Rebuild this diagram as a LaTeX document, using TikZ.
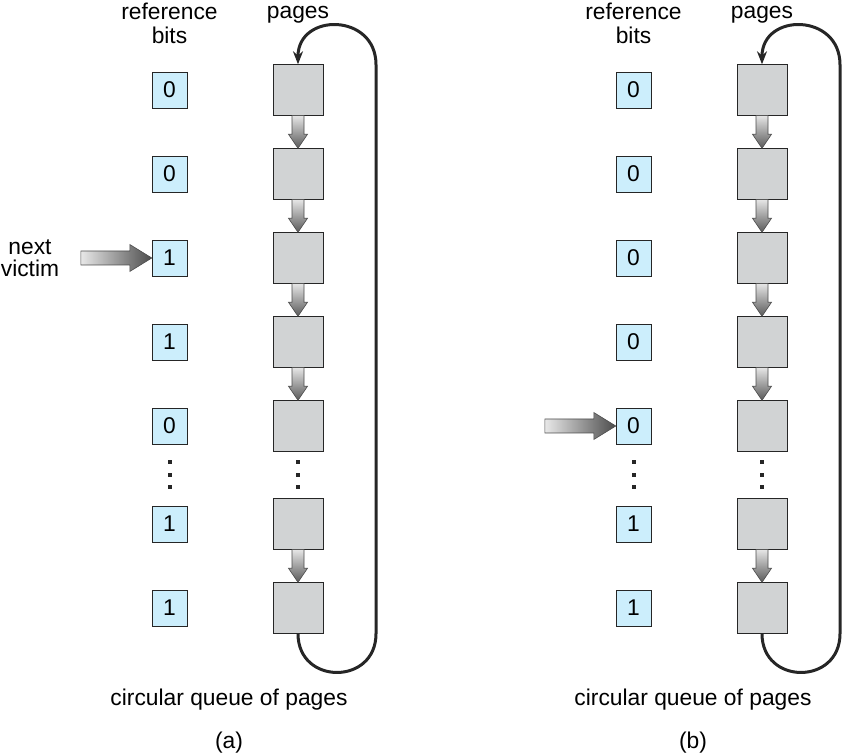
\documentclass[tikz,border=0pt]{standalone}
\usepackage{fontspec}
\setmainfont{Liberation Sans}
\usetikzlibrary{calc,arrows.meta}
\definecolor{bitblue}{RGB}{204,238,252}
\definecolor{pagegray}{RGB}{209,211,212}
\tikzset{
    bit-box/.style = {draw=black!85, fill=bitblue, minimum width=35pt, minimum height=36pt, inner sep=0pt, font=\fontsize{22.8}{24}\selectfont},
    page-box/.style = {draw=black!85, fill=pagegray, minimum width=50pt, minimum height=51pt, inner sep=0pt},
    label-text/.style = {font=\fontsize{22.8}{24}\selectfont, align=center, inner sep=0pt},
    dot-mark/.style = {fill=black!85, minimum size=4pt, inner sep=0pt},
    queue-loop/.style = {draw=black!85, line width=3pt, -{Stealth[length=13pt,width=10pt]}},
    link-shade/.style = {top color=gray!20, bottom color=black!65, draw=black!70, line width=0.6pt},
    victim-shade/.style = {left color=gray!18, right color=black!70, draw=black!70, line width=0.6pt},
}
% shaded block arrow from one page down to the next
\newcommand{\pagelink}[2]{%
  \path[link-shade] ($(#1.south)+(-6pt,0)$) -- ($(#2.north)+(-6pt,14pt)$) -- ($(#2.north)+(-9.5pt,14pt)$)
    -- (#2.north) -- ($(#2.north)+(9.5pt,14pt)$) -- ($(#2.north)+(6pt,14pt)$) -- ($(#1.south)+(6pt,0)$) -- cycle;}
% shaded pointer arrow into a reference bit
\newcommand{\victimarrow}[2]{%
  \path[victim-shade] ($(#1)+(0,7pt)$) -- ($(#2.west)+(-22pt,7pt)$) -- ($(#2.west)+(-22pt,13.5pt)$)
    -- (#2.west) -- ($(#2.west)+(-22pt,-13.5pt)$) -- ($(#2.west)+(-22pt,-7pt)$) -- ($(#1)+(0,-7pt)$) -- cycle;}
\begin{document}
\begin{tikzpicture}[x=1pt,y=1pt]
\useasboundingbox (0,0) rectangle (844,753);
\foreach \p/\dx/\bits/\vrow in {a/0/{0,0,1,1,0,1,1}/3, b/464/{0,0,0,0,0,1,1}/5}{
\begin{scope}[xshift=\dx pt]
  % bits and pages
  \foreach \y [count=\i] in {663,579,495,411,327,229,145}{
    \pgfmathtruncatemacro\b{{\bits}[\i-1]}
    \node[bit-box] (\p-bit-\i) at (169.5,\y) {\b};
    \node[page-box] (\p-page-\i) at (298,\y) {};
  }
  \foreach \i/\j in {1/2,2/3,3/4,4/5,6/7}{\pagelink{\p-page-\i}{\p-page-\j}}
  \foreach \y in {291,278,266}{
    \node[dot-mark] (\p-bdot-\y) at (169.5,\y) {};
    \node[dot-mark] (\p-pdot-\y) at (298,\y) {};
  }
  % circular queue
  \draw[queue-loop] (\p-page-7.south) to[out=-90,in=-90,looseness=1.7] ++(78,0) -- ++(0,569)
    to[out=90,in=90,looseness=1.7] (\p-page-1.north);
  \coordinate (\p-victim-tail) at ($(\p-bit-\vrow.west)+(-71pt,0)$);
  \victimarrow{\p-victim-tail}{\p-bit-\vrow}
  % titles
  \node[label-text, anchor=base] (\p-bits-title) at (169.5,709) {reference\\bits};
  \node[label-text, anchor=base] (\p-pages-title) at (298,734) {pages};
  \node[label-text, anchor=base] (\p-queue-title) at (229,47) {circular queue of pages};
  \node[label-text, anchor=base] (\p-caption) at (229,5) {(\p)};
\end{scope}
}
\node[label-text, font=\fontsize{22.8}{22}\selectfont, anchor=base] (victim-label) at (30,476) {next\\victim};
\end{tikzpicture}
\end{document}
